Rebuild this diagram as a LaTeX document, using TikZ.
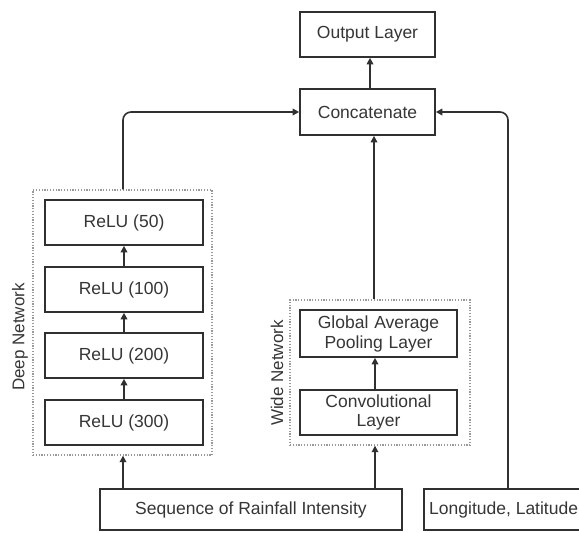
\documentclass[tikz,border=0pt]{standalone}
\usepackage{fontspec}
\setmainfont{Liberation Sans}
\usetikzlibrary{arrows.meta}
\definecolor{ln}{HTML}{303030}
\definecolor{tx}{HTML}{363636}
\begin{document}
\begin{tikzpicture}[x=1pt,y=-1pt,
  box/.style={draw=ln,line width=1.6pt,inner sep=0pt,text=tx,align=center,
    font=\fontsize{17.5}{20}\selectfont},
  grp/.style={draw=gray!80,line width=1.3pt,dash pattern=on 1.2pt off 1.6pt,inner sep=0pt},
  lab/.style={text=tx,font=\fontsize{17}{20}\selectfont,rotate=90,inner sep=0pt},
  conn/.style={draw=ln,line width=1.6pt,-{Triangle[length=6.5pt,width=6.5pt]},rounded corners=8pt}]
\useasboundingbox (0,0) rectangle (579,533);
\fill[white] (0,0) rectangle (579,533);
\clip (0,0) rectangle (579,533);
% group boxes
\node[grp,minimum width=179pt,minimum height=265pt] (deep) at (122.5,322.5) {};
\node[grp,minimum width=180pt,minimum height=145pt] (wide) at (380,372.5) {};
\node[lab] (deeplab) at (20,337) {Deep Network};
\node[lab] (widelab) at (277,373) {Wide Network};
% nodes
\node[box,minimum width=135pt,minimum height=45pt] (out) at (367.5,34.5) {Output Layer};
\node[box,minimum width=135pt,minimum height=46pt] (cat) at (367.5,112) {Concatenate};
\node[box,minimum width=158pt,minimum height=45pt] (r50) at (124,222.5) {ReLU (50)};
\node[box,minimum width=158pt,minimum height=45pt] (r100) at (124,289.5) {ReLU (100)};
\node[box,minimum width=158pt,minimum height=45pt] (r200) at (124,355.5) {ReLU (200)};
\node[box,minimum width=158pt,minimum height=45pt] (r300) at (124,422.5) {ReLU (300)};
\node[box,minimum width=157pt,minimum height=47pt,text width=150pt] (gap) at (378.5,333.5) {Global Average\\[0pt]Pooling Layer};
\node[box,minimum width=157pt,minimum height=45pt,text width=150pt] (conv) at (378.5,412.5) {Convolutional\\[-1pt]Layer};
\node[box,minimum width=302pt,minimum height=41pt] (seq) at (251,509.5) {Sequence of Rainfall Intensity};
\node[box,minimum width=190pt,minimum height=41pt,anchor=west] (lon) at (423,509.5) {};
\node[text=tx,font=\fontsize{17.5}{20}\selectfont,anchor=west,inner sep=0pt] (lontext) at (429,509.5) {Longitude, Latitude};
% connectors
\draw[conn] (r300.north) -- (r200.south);
\draw[conn] (r200.north) -- (r100.south);
\draw[conn] (r100.north) -- (r50.south);
\draw[conn] (conv.north -| 375,0) -- (375,0 |- gap.south);
\draw[conn] (cat.north -| 370,0) -- (370,0 |- out.south);
\draw[conn] (seq.north -| 123,0) -- (123,0 |- deep.south);
\draw[conn] (seq.north -| 375,0) -- (375,0 |- wide.south);
\draw[conn] (wide.north -| 374,0) -- (374,0 |- cat.south);
\draw[conn] (deep.north -| 123,0) -- (123,112) -- (cat.west);
\draw[conn] (lon.north -| 508,0) -- (508,112) -- (cat.east);
\end{tikzpicture}
\end{document}
